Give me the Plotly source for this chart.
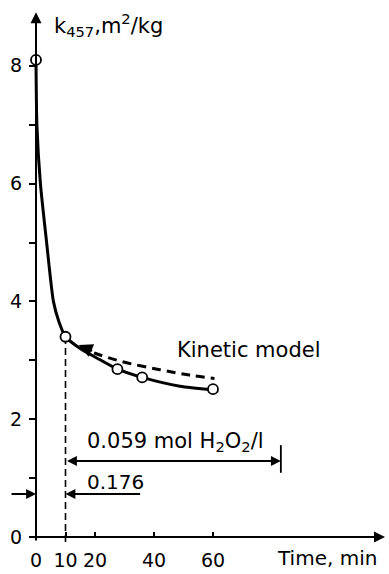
import plotly.graph_objects as go

# Measured points
time_pts = [0, 10, 27.6, 36, 60]
k_pts = [8.1, 3.4, 2.85, 2.71, 2.51]

curve_t = [0, 0.3, 1.5, 3.6, 5.9, 7.8, 10, 15, 20.6, 27.6, 36, 48.8, 60]
curve_k = [8.1, 7.0, 6.0, 5.0, 4.0, 3.65, 3.4, 3.2, 3.04, 2.85, 2.71, 2.56, 2.5]

# Kinetic model prediction
model_t = [15, 20, 29, 42, 52, 60.5]
model_k = [3.23, 3.12, 2.98, 2.84, 2.75, 2.69]

x_ticks = [0, 10, 20, 40, 60]
y_ticks = [0, 2, 4, 6, 8]
y_minor = [1, 3, 5, 7]

dose_start = 10      # min, second addition of peroxide
dose_label_1 = "0.176"
dose_label_2 = "0.059 mol H<sub>2</sub>O<sub>2</sub>/l"

W, H = 389, 574
x0_px, px_per_min = 36, 2.95
y0_px, px_per_unit = 537, 58.9
x_range = [-x0_px / px_per_min, (W - x0_px) / px_per_min]
y_range = [-(H - y0_px) / px_per_unit, y0_px / px_per_unit]

FONT = "DejaVu Sans"
INK = "#000000"

fig = go.Figure()

fig.add_trace(go.Scatter(x=curve_t, y=curve_k, mode="lines",
                         line=dict(color=INK, width=3, shape="spline", smoothing=0.6),
                         hoverinfo="skip", showlegend=False))
fig.add_trace(go.Scatter(x=model_t, y=model_k, mode="lines",
                         line=dict(color=INK, width=3, dash="9px,6px", shape="spline"),
                         hoverinfo="skip", showlegend=False))
fig.add_trace(go.Scatter(x=time_pts, y=k_pts, mode="markers",
                         marker=dict(symbol="circle", size=10, color="white",
                                     line=dict(color=INK, width=1.8)),
                         cliponaxis=False, showlegend=False))

shapes = [
    # dashed drop line at the dosing time
    dict(type="line", xref="x", yref="y", x0=dose_start, x1=dose_start,
         y0=-0.085, y1=k_pts[1], line=dict(color=INK, width=1.6, dash="7px,4px"), layer="below"),
    # end bar of the second dosing period
    dict(type="line", xref="x", yref="y", x0=83, x1=83, y0=1.09, y1=1.56,
         line=dict(color=INK, width=1.8)),
]

def arrow(x, y, ax, ay, head=2, side="end", width=2):
    return dict(x=x, y=y, ax=ax, ay=ay, xref="x", yref="y", axref="x", ayref="y",
                showarrow=True, arrowhead=head, arrowside=side, arrowsize=1.1,
                arrowwidth=width, arrowcolor=INK, text="")

annotations = [
    # axes with arrowheads
    arrow(118.3, 0, -2.7, 0),
    arrow(0, 8.91, 0, -0.085),
    # dosing dimension lines
    arrow(0, 0.73, -8.8, 0.73, head=2, width=1.8),
    arrow(dose_start, 0.73, 35.8, 0.73, head=2, width=1.8),
    arrow(83, 1.29, dose_start, 1.29, head=2, side="end+start", width=1.8),
    # arrowhead at the start of the model curve
    arrow(14.5, 3.26, 19.5, 3.15, head=2, width=2.5),
]

def label(text, x, y, size=20, xanchor="left"):
    return dict(text=text, x=x, y=y, xref="x", yref="y", showarrow=False,
                xanchor=xanchor, yanchor="middle",
                font=dict(family=FONT, size=size, color=INK))

annotations += [
    label("k<sub>457</sub>,m<sup>2</sup>/kg", 5.4, 8.69, size=21),
    label("Time, min", 81, -0.36, size=20),
    label("Kinetic model", 47, 3.17, size=21),
    label(dose_label_2, 16.6, 1.62, size=21),
    label(dose_label_1, 16.6, 0.94, size=20),
]

fig.update_layout(
    width=W, height=H,
    margin=dict(l=0, r=0, t=0, b=0, pad=0),
    paper_bgcolor="white", plot_bgcolor="white",
    shapes=shapes, annotations=annotations,
    font=dict(family=FONT, size=19, color=INK),
    xaxis=dict(range=x_range, domain=[0, 1], anchor="free", position=(H - y0_px) / H,
               showgrid=False, zeroline=False, showline=False,
               tickvals=x_ticks, ticks="inside", ticklen=5, tickwidth=1.6, tickcolor=INK,
               ticklabelstandoff=10, tickfont=dict(family=FONT, size=19, color=INK),
               automargin=False),
    yaxis=dict(range=y_range, domain=[0, 1], anchor="free", position=x0_px / W,
               showgrid=False, zeroline=False, showline=False,
               tickvals=y_ticks, ticks="outside", ticklen=7, tickwidth=1.6, tickcolor=INK,
               ticklabelstandoff=3, tickfont=dict(family=FONT, size=19, color=INK),
               minor=dict(tickvals=y_minor, ticks="outside", ticklen=7, tickwidth=1.6,
                          tickcolor=INK),
               automargin=False),
)

fig.write_html("out.html")
